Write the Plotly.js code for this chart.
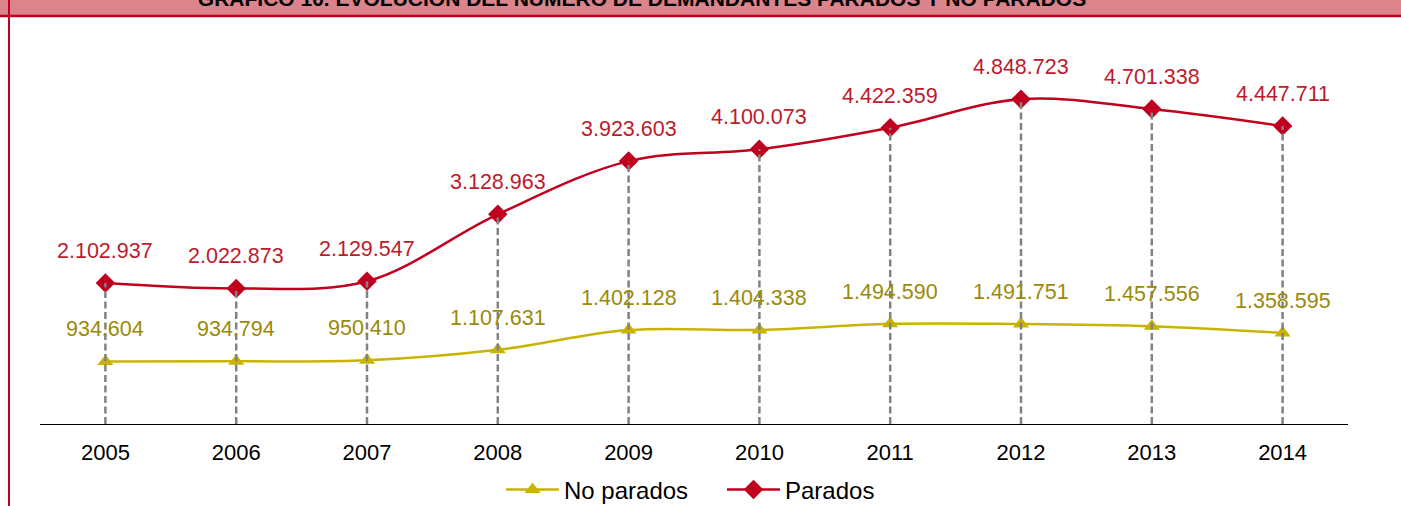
<!DOCTYPE html>
<html>
<head>
<meta charset="utf-8">
<script src="https://cdn.plot.ly/plotly-3.0.1.min.js"></script>
<style>
  html, body { margin: 0; padding: 0; background: #ffffff; }
  #chart { width: 1401px; height: 506px; }
</style>
</head>
<body>
<div id="chart"></div>
<script>
// ---- Data ----
const years = ['2005', '2006', '2007', '2008', '2009', '2010', '2011', '2012', '2013', '2014'];
const noParados = [934604, 934794, 950410, 1107631, 1402128, 1404338, 1494590, 1491751, 1457556, 1358595];
const parados = [2102937, 2022873, 2129547, 3128963, 3923603, 4100073, 4422359, 4848723, 4701338, 4447711];
const seriesNames = ['No parados', 'Parados'];
const chartTitle = 'GRÁFICO 10. EVOLUCIÓN DEL NÚMERO DE DEMANDANTES PARADOS Y NO PARADOS';

// ---- Styling ----
const FONT = 'Liberation Sans, Arial, sans-serif';
const RED = '#c0001e';
const RED_TEXT = '#bd1a2c';
const YEL = '#c8b400';
const YEL_TEXT = '#9a8a08';
const W_PX = 1401, H_PX = 506;
const M = { l: 40, r: 53, t: 22, b: 82, autoexpand: false };
const PW = W_PX - M.l - M.r, PH = H_PX - M.t - M.b;
const px = x => (x - M.l) / PW;
const py = y => (H_PX - M.b - y) / PH;

function fmt(n) {
  return String(n).replace(/\B(?=(\d{3})+(?!\d))/g, '.');
}

const traces = [
  {
    type: 'scatter', mode: 'lines+markers', name: seriesNames[0],
    x: years, y: noParados,
    line: { color: YEL, width: 2.5, shape: 'spline' },
    marker: { symbol: 'triangle-up', size: 14, color: YEL },
    hoverinfo: 'x+y'
  },
  {
    type: 'scatter', mode: 'lines+markers', name: seriesNames[1],
    x: years, y: parados,
    line: { color: RED, width: 2.5, shape: 'spline' },
    marker: { symbol: 'diamond', size: 15, color: RED },
    hoverinfo: 'x+y'
  }
];

// category axis: numeric-looking names must be referenced by their index
const annotations = [];
years.forEach((yr, i) => {
  annotations.push({
    x: i, y: parados[i], xref: 'x', yref: 'y', text: fmt(parados[i]),
    showarrow: false, yanchor: 'middle', xanchor: 'center', yshift: 32,
    font: { family: FONT, size: 21.5, color: RED_TEXT }
  });
  annotations.push({
    x: i, y: noParados[i], xref: 'x', yref: 'y', text: fmt(noParados[i]),
    showarrow: false, yanchor: 'middle', xanchor: 'center', yshift: 32,
    font: { family: FONT, size: 21.5, color: YEL_TEXT }
  });
});

const shapes = [];
// header band
shapes.push({ type: 'rect', xref: 'paper', yref: 'paper', layer: 'below',
  x0: px(0), x1: px(W_PX), y0: py(0), y1: py(15.5),
  fillcolor: '#db848b', line: { width: 0 } });
shapes.push({ type: 'line', xref: 'paper', yref: 'paper', layer: 'below',
  x0: px(0), x1: px(W_PX), y0: py(16), y1: py(16),
  line: { color: '#c0001e', width: 2.5 } });
shapes.push({ type: 'line', xref: 'paper', yref: 'paper', layer: 'below',
  x0: px(9), x1: px(9), y0: py(0), y1: py(H_PX),
  line: { color: '#c0001e', width: 2 } });
// drop lines
years.forEach((yr, i) => {
  shapes.push({ type: 'line', xref: 'x', yref: 'y', layer: 'above',
    x0: i, x1: i, y0: 0, y1: parados[i],
    line: { color: '#828282', width: 2.5, dash: '7px,3.5px' } });
});

const layout = {
  width: W_PX, height: H_PX,
  margin: M,
  paper_bgcolor: '#ffffff', plot_bgcolor: '#ffffff',
  font: { family: FONT, color: '#000000' },
  title: {
    text: chartTitle,
    font: { family: FONT, size: 21, color: '#000000', weight: 'bold' },
    xref: 'container', yref: 'container',
    x: 642 / W_PX, xanchor: 'center',
    y: 1 - 5.5 / H_PX, yanchor: 'bottom'
  },
  xaxis: {
    type: 'category', range: [-0.5, 9.5],
    showgrid: false, zeroline: false,
    showline: true, linecolor: '#000000', linewidth: 1.3,
    ticks: '', ticklabelstandoff: 8,
    tickfont: { family: FONT, size: 22, color: '#000000' },
    fixedrange: true
  },
  yaxis: {
    range: [0, 6000000],
    showgrid: false, zeroline: false, showline: false,
    showticklabels: false, ticks: '', fixedrange: true
  },
  showlegend: true,
  legend: {
    orientation: 'h', x: px(501), xanchor: 'left',
    y: py(490), yanchor: 'middle',
    font: { family: FONT, size: 24, color: '#000000' },
    itemwidth: 53, entrywidth: 153, entrywidthmode: 'pixels',
    bgcolor: 'rgba(0,0,0,0)'
  },
  annotations: annotations,
  shapes: shapes
};

Plotly.newPlot('chart', traces, layout, { displayModeBar: false, staticPlot: true });
</script>
</body>
</html>
